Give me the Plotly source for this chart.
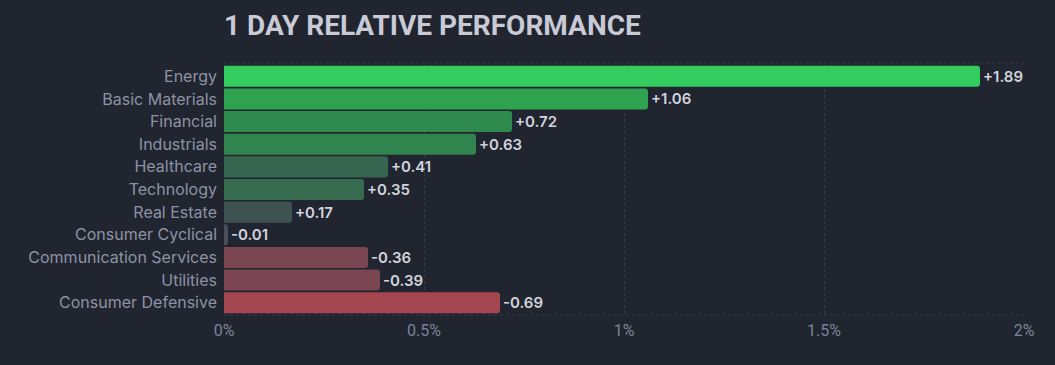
import plotly.graph_objects as go

categories = ["Energy", "Basic Materials", "Financial", "Industrials", "Healthcare",
              "Technology", "Real Estate", "Consumer Cyclical", "Communication Services",
              "Utilities", "Consumer Defensive"]
values = [1.89, 1.06, 0.72, 0.63, 0.41, 0.35, 0.17, -0.01, -0.36, -0.39, -0.69]
colors = ["#33cd5f", "#2ea24f", "#2f8b4d", "#30844d", "#36664f", "#376b50",
          "#3e5350", "#4a4e5a", "#7a4651", "#7b4651", "#a3464f"]
tick_vals = [0, 0.5, 1, 1.5, 2]
tick_text = ["0%", "0.5%", "1%", "1.5%", "2%"]

labels = [("+" if v > 0 else "") + f"{v:.2f}" for v in values]

fig = go.Figure(go.Bar(
    y=categories,
    x=[abs(v) for v in values],
    orientation="h",
    marker=dict(color=colors, line=dict(width=0), cornerradius=3),
    text=labels,
    textposition="outside",
    cliponaxis=False,
    textfont=dict(family="Inter", size=15, color="#d1d4dc", weight=600),
    hoverinfo="skip",
))

plot_h = 365 - 65 - 51
fig.update_layout(
    width=1055, height=365,
    paper_bgcolor="#21252f", plot_bgcolor="#21252f",
    margin=dict(l=224, r=31, t=65, b=51),
    bargap=0.07,
    showlegend=False,
    title=dict(text="<b>1 DAY RELATIVE PERFORMANCE</b>", x=224/1055, xanchor="left",
               y=1 - 25/365, yanchor="middle",
               font=dict(family="Roboto", size=28, color="#c8cad6")),
)
fig.update_xaxes(range=[0, 2], tickvals=tick_vals, ticktext=tick_text,
                 showgrid=True, gridcolor="#363b47", griddash="3px,3px", gridwidth=1,
                 zeroline=False, showline=False, ticks="", ticklabelstandoff=5,
                 tickfont=dict(family="Roboto", size=16, color="#7c8296"))
fig.update_yaxes(autorange="reversed", showgrid=False, zeroline=False, ticks="",
                 ticklabelstandoff=6,
                 tickfont=dict(family="Inter", size=16, color="#8d93a6"))
for yy in (-1.0 / plot_h, 1 + 2.0 / plot_h):
    fig.add_shape(type="line", xref="paper", yref="paper", x0=0, x1=1, y0=yy, y1=yy,
                  line=dict(color="#363b47", width=1, dash="3px,3px"), layer="below")

fig.write_html("out.html", config={"displayModeBar": False},
               post_script="document.body.style.margin='0';document.body.style.background='#21252f';")
